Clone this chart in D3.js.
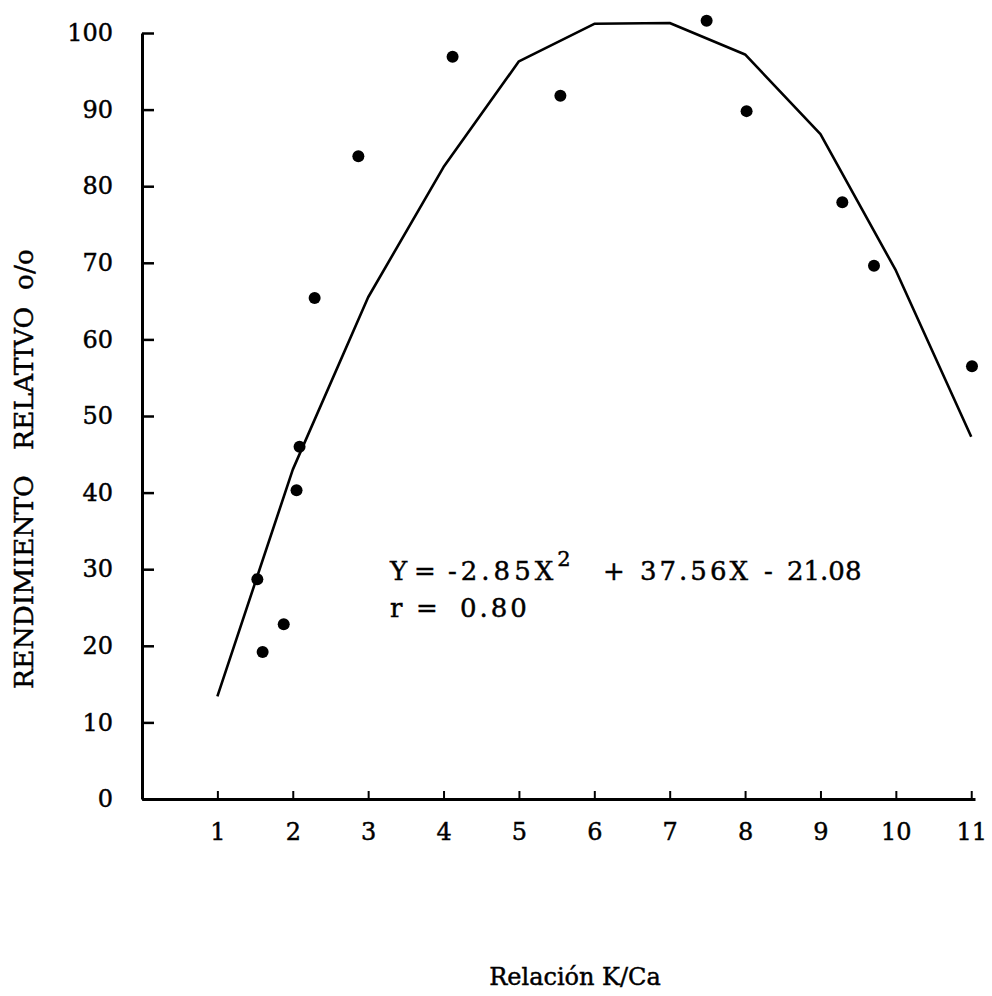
<!DOCTYPE html>
<html>
<head>
<meta charset="utf-8">
<script src="https://cdn.jsdelivr.net/npm/d3@7"></script>
<style>
  body { margin: 0; background: #fff; }
  svg text { font-family: "DejaVu Serif", serif; fill: #000; stroke: #000; stroke-width: 0.45px; }
</style>
</head>
<body>
<div id="chart"></div>
<script>
// Rendimiento relativo vs relación K/Ca (observed points + fitted quadratic)
const ratioKCa = [1.53, 1.60, 1.88, 2.05, 2.09, 2.29, 2.87, 4.12, 5.55, 7.49, 8.02, 9.29, 9.71, 11.01];
const yieldRel = [28.7, 19.2, 22.8, 40.3, 46.0, 65.4, 83.9, 96.9, 91.8, 101.6, 89.8, 77.9, 69.6, 56.5];

// fitted curve as drawn in the figure (one vertex per integer ratio)
const fitX = [1, 2, 3, 4, 5, 6, 7, 8, 9, 10, 11];
const fitY = [13.4, 43.0, 65.5, 82.5, 96.3, 101.2, 101.3, 97.2, 86.8, 69.0, 47.3];

const xTicks = [1, 2, 3, 4, 5, 6, 7, 8, 9, 10, 11];
const yTicks = [0, 10, 20, 30, 40, 50, 60, 70, 80, 90, 100];

const width = 992, height = 996;
const margin = { top: 33, right: 17, bottom: 197, left: 142 };

const svg = d3.select("#chart").append("svg")
  .attr("width", width).attr("height", height);

const x = d3.scaleLinear().domain([0, 11.05]).range([margin.left, width - margin.right]);
const y = d3.scaleLinear().domain([0, 100]).range([height - margin.bottom, margin.top]);

svg.append("g")
  .attr("transform", `translate(0,${y(0)})`)
  .call(d3.axisBottom(x).tickValues(xTicks).tickSizeInner(-8).tickSizeOuter(0).tickPadding(24))
  .call(g => g.select(".domain").attr("stroke-width", 3))
  .call(g => g.selectAll(".tick line").attr("stroke-width", 2))
  .call(g => g.selectAll("text").attr("font-size", 24).attr("font-family", "DejaVu Serif"));

svg.append("g")
  .attr("transform", `translate(${x(0)},0)`)
  .call(d3.axisLeft(y).tickValues(yTicks).tickSizeInner(-12).tickSizeOuter(0).tickPadding(29))
  .call(g => g.select(".domain").attr("stroke-width", 3))
  .call(g => g.selectAll(".tick line").attr("stroke-width", 2.5))
  .call(g => g.selectAll("text").attr("font-size", 24).attr("font-family", "DejaVu Serif"));

const line = d3.line().x((d, i) => x(fitX[i])).y(d => y(d));
svg.append("path")
  .datum(fitY)
  .attr("d", line)
  .attr("fill", "none")
  .attr("stroke", "#000")
  .attr("stroke-width", 2.6)
  .attr("stroke-linejoin", "round");

svg.selectAll("circle.obs").data(yieldRel).join("circle")
  .attr("class", "obs")
  .attr("cx", (d, i) => x(ratioKCa[i]))
  .attr("cy", d => y(d))
  .attr("r", 6)
  .attr("fill", "#000");

// equation annotation
const eq = svg.append("text").attr("font-size", 26).attr("y", 580).attr("letter-spacing", 3);
eq.append("tspan").attr("x", 390).text("Y");
eq.append("tspan").attr("x", 414).text("=");
eq.append("tspan").attr("x", 448).attr("letter-spacing", 4).text("-2.85X");
eq.append("tspan").attr("dx", 0).attr("dy", -14).attr("font-size", 21).text("2");
eq.append("tspan").attr("x", 603).attr("dy", 14).text("+");
eq.append("tspan").attr("x", 640).text("37.56X");
eq.append("tspan").attr("x", 764).text("-");
eq.append("tspan").attr("x", 787).attr("letter-spacing", 0).text("21.08");

const rr = svg.append("text").attr("font-size", 26).attr("y", 617).attr("letter-spacing", 3);
rr.append("tspan").attr("x", 390).text("r");
rr.append("tspan").attr("x", 416).text("=");
rr.append("tspan").attr("x", 460).text("0.80");

// axis titles
svg.append("text")
  .attr("transform", "translate(33,469) rotate(-90)")
  .attr("text-anchor", "middle")
  .attr("font-size", 26.5)
  .style("white-space", "pre")
  .text("RENDIMIENTO   RELATIVO  o/o");

svg.append("text")
  .attr("x", 575).attr("y", 985)
  .attr("text-anchor", "middle")
  .attr("font-size", 24)
  .text("Relación K/Ca");
</script>
</body>
</html>
